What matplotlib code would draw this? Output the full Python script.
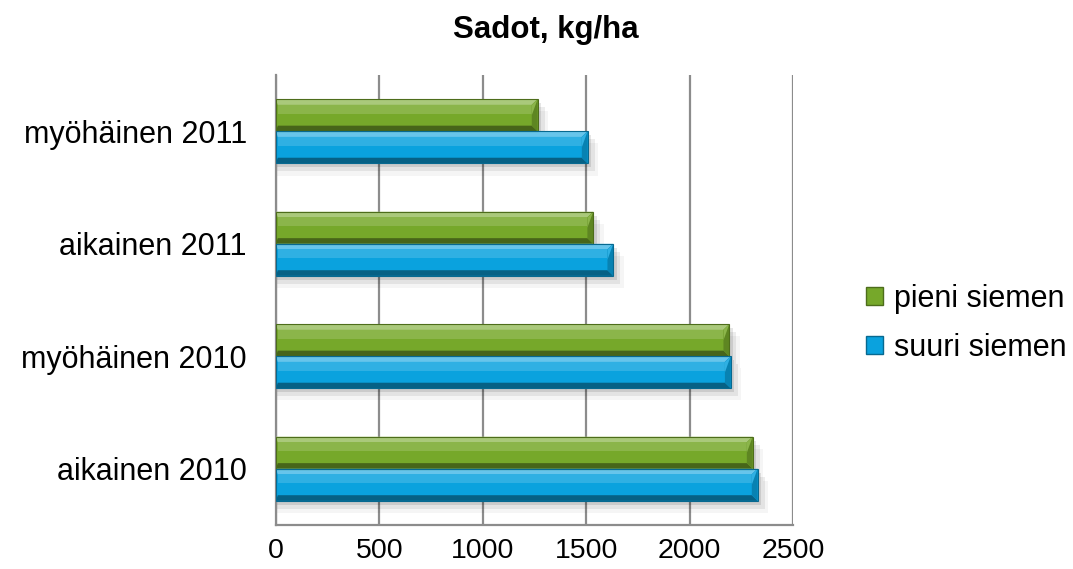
import numpy as np
import matplotlib.pyplot as plt
from matplotlib.patches import Polygon, Patch
import matplotlib.colors as mcolors

plt.rcParams['font.family'] = ['Liberation Sans', 'DejaVu Sans']

categories = ['aikainen 2010', 'myöhäinen 2010', 'aikainen 2011', 'myöhäinen 2011']
pieni = [2305, 2192, 1534, 1265]
suuri = [2329, 2199, 1631, 1507]
xticks = [0, 500, 1000, 1500, 2000, 2500]

green = '#76a82a'
blue = '#0aa2de'


def shade(c, f):
    r = np.array(mcolors.to_rgb(c))
    if f > 0:
        r = r + (1 - r) * f
    else:
        r = r * (1 + f)
    return tuple(np.clip(r, 0, 1))


def bevel_bar(ax, y, w, h, color, bx, by):
    # soft shadow
    for i, a in enumerate([0.10, 0.07, 0.04]):
        d = (i + 1) * 1.2
        ax.add_patch(plt.Rectangle((0, y - h / 2 - by * d * 0.6), w + bx * d * 0.5, h,
                                   color='#000000', alpha=a, lw=0, zorder=2))
    y0, y1 = y - h / 2, y + h / 2
    ax.add_patch(plt.Rectangle((0, y0), w, h, facecolor=color, lw=0, zorder=3))
    # top facet
    ax.add_patch(Polygon([(0, y1), (w, y1), (w - bx, y1 - by), (bx * 0.3, y1 - by)],
                         closed=True, facecolor=shade(color, 0.38), lw=0, zorder=4))
    # upper glow
    ax.add_patch(plt.Rectangle((bx * 0.3, y1 - by - h * 0.28), w - bx * 1.3, h * 0.28,
                               facecolor=shade(color, 0.15), lw=0, zorder=4))
    # bottom facet
    ax.add_patch(Polygon([(0, y0), (w, y0), (w - bx, y0 + by), (bx * 0.3, y0 + by)],
                         closed=True, facecolor=shade(color, -0.4), lw=0, zorder=4))
    # right facet
    ax.add_patch(Polygon([(w, y1), (w, y0), (w - bx, y0 + by), (w - bx, y1 - by)],
                         closed=True, facecolor=shade(color, -0.2), lw=0, zorder=4))
    ax.add_patch(Polygon([(w, y1), (w - bx, y1 - by), (w - bx, y1 - h * 0.5)],
                         closed=True, facecolor=shade(color, 0.15), lw=0, zorder=5))
    ax.add_patch(plt.Rectangle((0, y0), w, h, fill=False, edgecolor=shade(color, -0.35),
                               lw=0.8, zorder=6))


fig = plt.figure(figsize=(10.73, 5.69), dpi=100)
ax = fig.add_axes([0.2572, 0.0773, 0.4818, 0.7908])

ypos = np.arange(len(categories))
h = 0.285
bx, by = 28, 0.05
for i in range(len(categories)):
    bevel_bar(ax, ypos[i] + h / 2, pieni[i], h, green, bx, by)
    bevel_bar(ax, ypos[i] - h / 2, suuri[i], h, blue, bx, by)

ax.set_xlim(0, 2500)
ax.set_ylim(-0.5, len(categories) - 0.5)
ax.set_xticks(xticks)
ax.set_xticklabels([str(t) for t in xticks])
ax.set_yticks(ypos)
ax.set_yticklabels(categories)
ax.tick_params(axis='both', length=0, colors='#000000')
ax.tick_params(axis='y', pad=21, labelsize=22)
ax.tick_params(axis='x', pad=9, labelsize=20.5)
ax.xaxis.grid(True, color='#8c8c8c', lw=1.6, zorder=1)
ax.set_axisbelow(True)
for s in ['top', 'right']:
    ax.spines[s].set_visible(False)
for s in ['left', 'bottom']:
    ax.spines[s].set_color('#8c8c8c')
    ax.spines[s].set_linewidth(1.6)

fig.suptitle('Sadot, kg/ha', x=0.509, y=0.973, fontsize=22.5, fontweight='bold')

handles = [Patch(facecolor=green, edgecolor=shade(green, -0.35)),
           Patch(facecolor=blue, edgecolor=shade(blue, -0.35))]
fig.legend(handles, ['pieni siemen', 'suuri siemen'], loc='center left',
           bbox_to_anchor=(0.807, 0.432), frameon=False, fontsize=22,
           handlelength=0.55, handleheight=0.55, handletextpad=0.36, labelspacing=0.62,
           borderpad=0, borderaxespad=0)

fig.savefig('out.png', dpi=100)
